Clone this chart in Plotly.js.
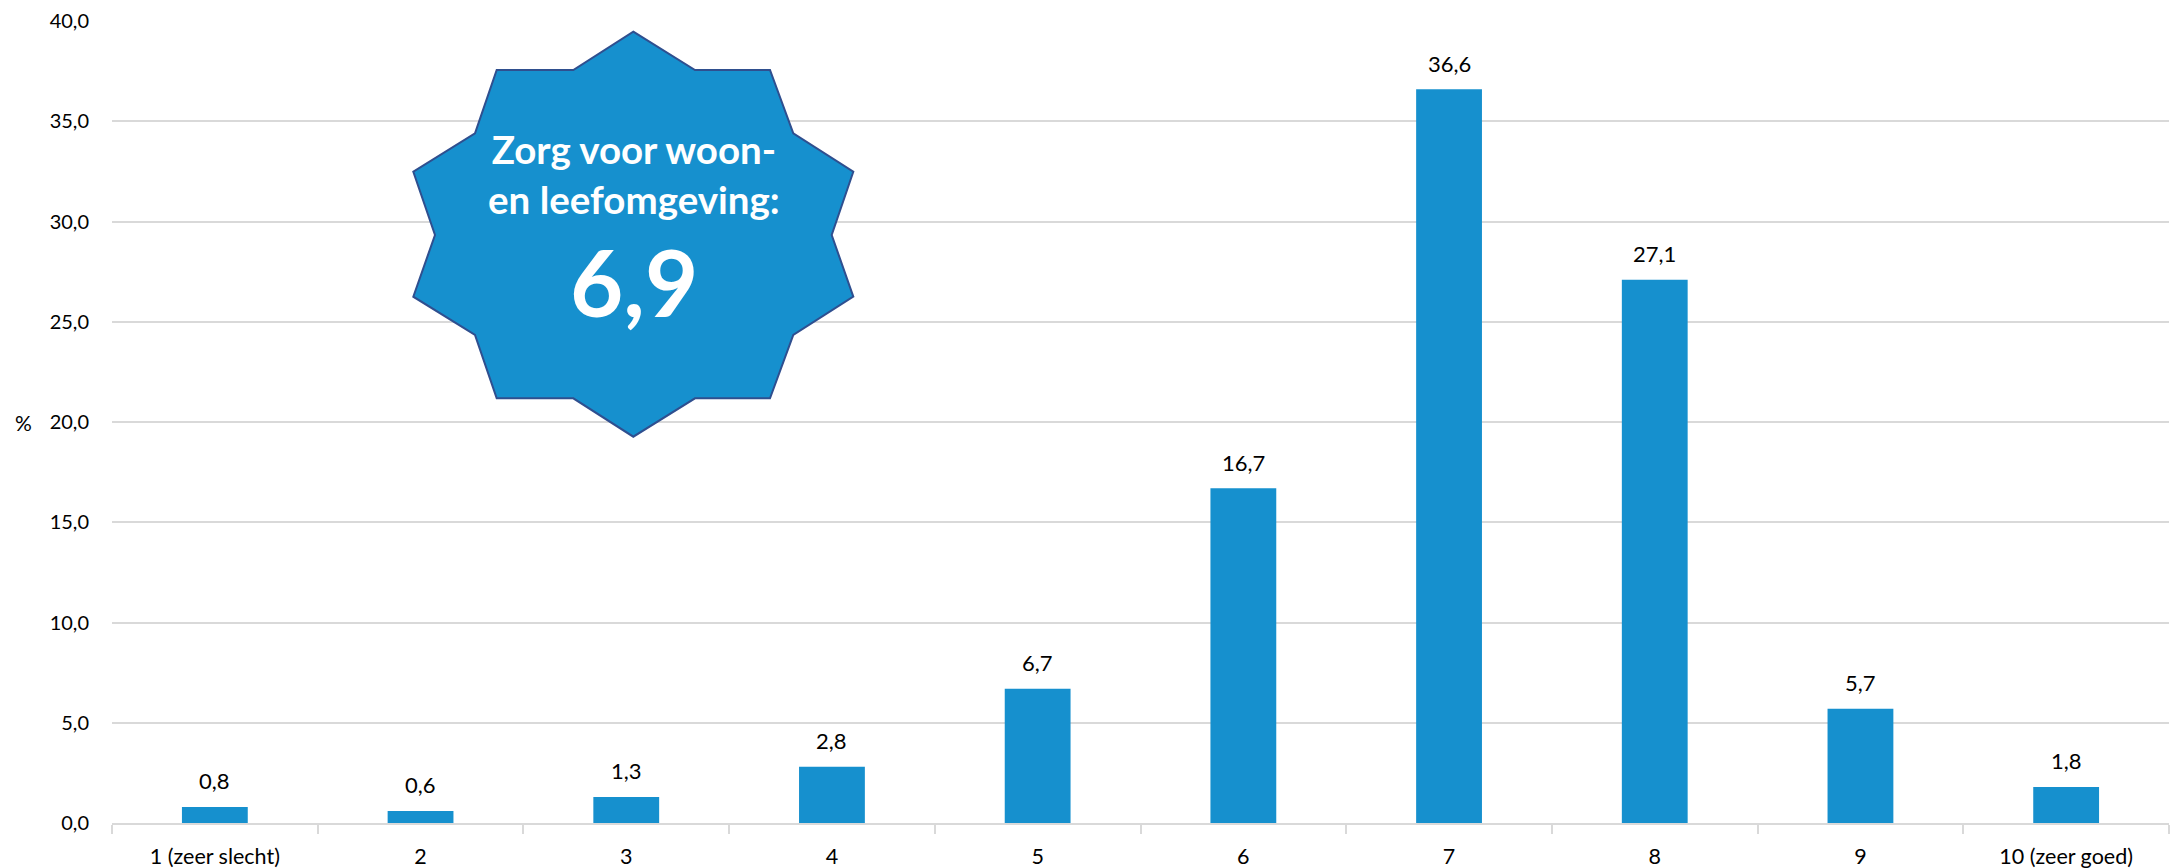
<!DOCTYPE html>
<html>
<head>
<meta charset="utf-8">
<script src="https://cdn.plot.ly/plotly-3.0.1.min.js"></script>
<style>html,body{margin:0;padding:0;background:#fff;}#chart{width:2173px;height:868px;}</style>
</head>
<body>
<div id="chart"></div>
<script>
const categories = ["1 (zeer slecht)", "2", "3", "4", "5", "6", "7", "8", "9", "10 (zeer goed)"];
const percentages = [0.8, 0.6, 1.3, 2.8, 6.7, 16.7, 36.6, 27.1, 5.7, 1.8];
const yTickValues = [0, 5, 10, 15, 20, 25, 30, 35, 40];
const badgeTitle = "Zorg voor woon-<br>en leefomgeving:";
const badgeScore = "6,9";
const yUnit = "%";

const W = 2173, H = 868;
const M = {l: 112, r: 4, t: 21, b: 45};
const pw = W - M.l - M.r, ph = H - M.t - M.b;
const px = x => (x - M.l) / pw;
const py = y => (H - M.b - y) / ph;

// decorative 10-point star (pixel outline -> paper coords)
const starPts = [
  [633.3, 31.7], [695, 70], [770, 70], [793.3, 133.3], [853.3, 171.7], [831.7, 235],
  [853.3, 296.7], [793.3, 335], [770, 398.3], [695, 398.3], [633.3, 436.7], [573.3, 398.3],
  [496.7, 398.3], [475, 335], [413.3, 296.7], [435, 235], [413.3, 171.7], [475, 133.3],
  [496.7, 70], [573.3, 70]
];
const starPath = starPts.map((p, i) => (i ? "L" : "M") + px(p[0]).toFixed(5) + "," + py(p[1]).toFixed(5)).join(" ") + " Z";

const fmt = v => v.toFixed(1).replace(".", ",");
const font = "Lato, 'Open Sans', sans-serif";

const annotations = categories.map((c, i) => ({
  x: i, y: percentages[i], xref: "x", yref: "y",
  text: fmt(percentages[i]), showarrow: false,
  yanchor: "middle", yshift: 26,
  font: {family: font, size: 22, color: "#000"}
}));
annotations.push({
  xref: "paper", yref: "paper", x: px(23), y: py(422),
  text: yUnit, showarrow: false, xanchor: "center", yanchor: "middle",
  font: {family: font, size: 21, color: "#000"}
});
annotations.push({
  xref: "paper", yref: "paper", x: px(634), y: py(174),
  text: "<b>" + badgeTitle + "</b>", showarrow: false, xanchor: "center", yanchor: "middle",
  font: {family: font, size: 38.5, color: "#fff"}
});
annotations.push({
  xref: "paper", yref: "paper", x: px(634), y: py(281),
  text: "<b>" + badgeScore + "</b>", showarrow: false, xanchor: "center", yanchor: "middle",
  font: {family: font, size: 92, color: "#fff"}
});

const trace = {
  type: "bar", x: categories, y: percentages,
  marker: {color: "#1690CE", line: {width: 0}},
  hoverinfo: "skip"
};

const layout = {
  width: W, height: H,
  margin: M,
  paper_bgcolor: "#fff", plot_bgcolor: "#fff",
  separators: ",.",
  bargap: 0.68,
  showlegend: false,
  font: {family: font, size: 20, color: "#000"},
  xaxis: {
    type: "category",
    showgrid: false, zeroline: false,
    showline: true, linecolor: "#D9D9D9", linewidth: 2,
    ticks: "outside", tickson: "boundaries", ticklen: 9, tickcolor: "#D9D9D9", tickwidth: 2,
    tickfont: {family: font, size: 21.5, color: "#000"},
    ticklabelstandoff: 13
  },
  yaxis: {
    range: [0, 40],
    tickvals: yTickValues,
    tickformat: ".1f",
    showgrid: true, gridcolor: "#D9D9D9", gridwidth: 2,
    zeroline: false, showline: false,
    ticks: "",
    tickfont: {family: font, size: 20, color: "#000"},
    ticklabelstandoff: 22
  },
  shapes: [{
    type: "path", xref: "paper", yref: "paper", path: starPath,
    fillcolor: "#1690CE", line: {color: "#2F4F8F", width: 2}, layer: "above"
  }],
  annotations: annotations
};

Plotly.newPlot("chart", [trace], layout, {displayModeBar: false, staticPlot: true});
</script>
</body>
</html>
